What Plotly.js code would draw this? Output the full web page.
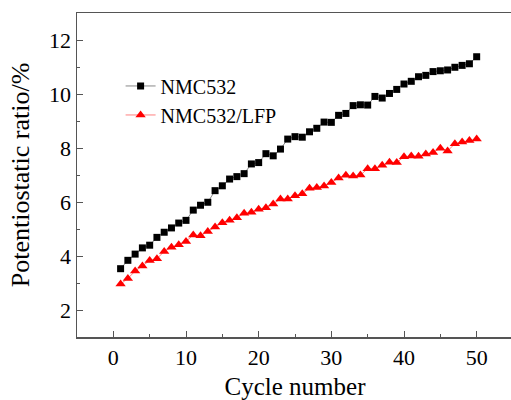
<!DOCTYPE html>
<html>
<head>
<meta charset="utf-8">
<script src="https://cdn.plot.ly/plotly-3.0.1.min.js"></script>
<style>html,body{margin:0;padding:0;overflow:hidden;background:#fff;width:511px;height:400px}</style>
</head>
<body>
<div id="chart"></div>
<script>
const cycles = Array.from({length: 50}, (_, i) => i + 1);
const nmc532 = [3.53,3.84,4.07,4.30,4.40,4.69,4.88,5.04,5.22,5.32,
  5.70,5.88,5.99,6.42,6.60,6.85,6.94,7.05,7.41,7.46,
  7.79,7.71,7.96,8.33,8.42,8.40,8.60,8.73,8.96,8.95,
  9.21,9.28,9.57,9.60,9.59,9.91,9.85,10.02,10.17,10.37,
  10.47,10.64,10.69,10.83,10.86,10.89,10.99,11.06,11.12,11.38];
const nmc532lfp = [2.96,3.17,3.44,3.63,3.83,3.90,4.17,4.32,4.42,4.54,
  4.78,4.75,4.91,5.07,5.23,5.32,5.42,5.58,5.62,5.73,
  5.79,5.93,6.11,6.11,6.23,6.31,6.51,6.54,6.59,6.72,
  6.89,6.99,6.96,7.00,7.23,7.23,7.36,7.47,7.46,7.68,
  7.70,7.69,7.78,7.83,7.99,7.89,8.16,8.22,8.28,8.33];
const xTicks = [0,10,20,30,40,50];
const yTicks = [2,4,6,8,10,12];

const font = 'Liberation Serif, Times New Roman, serif';
const traces = [
  {x: cycles, y: nmc532, name: 'NMC532', mode: 'lines+markers', type: 'scatter',
   line: {color: '#888888', width: 1},
   marker: {symbol: 'square', size: 7, color: '#000000'}},
  {x: cycles, y: nmc532lfp, name: 'NMC532/LFP', mode: 'lines+markers', type: 'scatter',
   line: {color: '#ff8080', width: 1},
   marker: {symbol: 'triangle-up', size: 9, color: '#ff0000'}}
];
const axisCommon = {
  showgrid: false, zeroline: false, showline: true, linecolor: '#555555', linewidth: 1.5,
  ticks: 'inside', ticklen: 6, tickwidth: 1, tickcolor: '#555555',
  tickfont: {family: font, size: 22, color: '#000'}
};
const layout = {
  width: 513, height: 400,
  margin: {l: 77, r: 0, t: 13, b: 63},
  paper_bgcolor: '#fff', plot_bgcolor: '#fff',
  showlegend: true,
  legend: {x: 0.10, y: 0.835, xanchor: 'left', yanchor: 'top', bgcolor: 'rgba(0,0,0,0)',
    font: {family: font, size: 20, color: '#000'}, tracegroupgap: 0, itemwidth: 30},
  xaxis: Object.assign({}, axisCommon, {range: [-5, 55], tickvals: xTicks, mirror: true,
    minor: {ticks: 'inside', ticklen: 3, tickwidth: 1, tickcolor: '#555555', dtick: 5, tick0: 5},
    title: {text: 'Cycle number', font: {family: font, size: 25, color: '#000'}, standoff: 10}}),
  yaxis: Object.assign({}, axisCommon, {range: [1, 13], tickvals: yTicks, mirror: true,
    minor: {ticks: 'inside', ticklen: 3, tickwidth: 1, tickcolor: '#555555', dtick: 1, tick0: 1},
    title: {text: 'Potentiostatic ratio/%', font: {family: font, size: 26, color: '#000'}, standoff: 12}})
};
Plotly.newPlot('chart', traces, layout, {displayModeBar: false, staticPlot: true});
</script>
</body>
</html>
